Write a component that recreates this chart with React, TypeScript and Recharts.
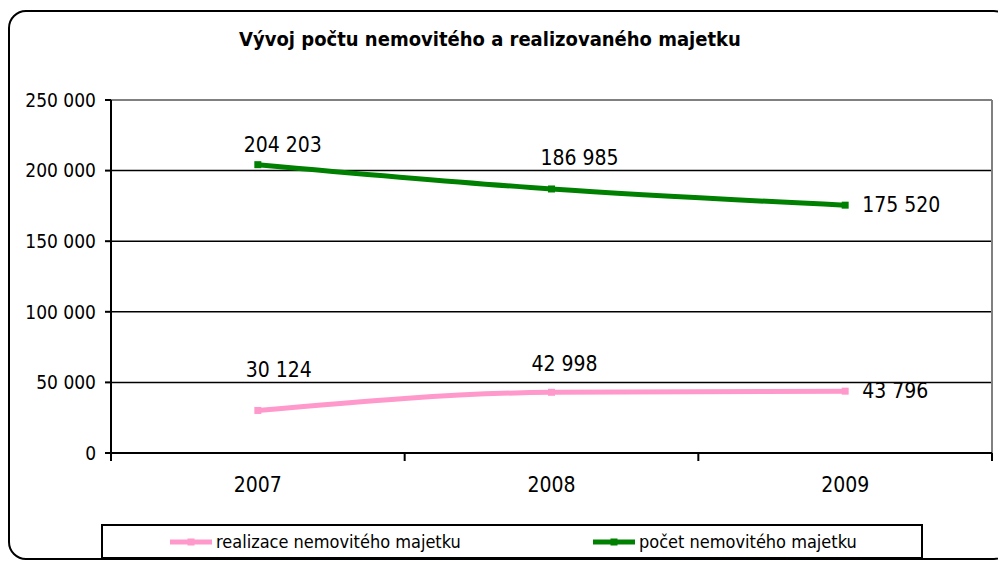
import { LineChart, Line, XAxis, YAxis, CartesianGrid, ReferenceLine } from "recharts";

const years = ["2007", "2008", "2009"];
const realizace = [30124, 42998, 43796];
const pocet = [204203, 186985, 175520];
const yTicks = [0, 50000, 100000, 150000, 200000, 250000];

const seriesNames = {
  realizace: "realizace nemovitého majetku",
  pocet: "počet nemovitého majetku",
};

const PINK = "#FF99CC";
const GREEN = "#008000";
const FONT = "'DejaVu Sans Condensed', 'DejaVu Sans', sans-serif";

// one row per year, x is the middle of the year's band
const data = years.map((year, i) => ({
  year,
  x: i + 0.5,
  realizace: realizace[i],
  pocet: pocet[i],
}));

// band edges get tick marks, band middles get the year
const xTicks = [0, ...years.flatMap((_, i) => [i + 0.5, i + 1])];

const fmt = (v: number) => v.toLocaleString("en-US").replace(/,/g, " ");

// label offsets from the point, as placed in the original
const greenOffsets = [
  { dx: 25, dy: -20, anchor: "middle" },
  { dx: 28, dy: -31, anchor: "middle" },
  { dx: 17, dy: 0, anchor: "start" },
];
const pinkOffsets = [
  { dx: 21, dy: -40, anchor: "middle" },
  { dx: 13, dy: -28, anchor: "middle" },
  { dx: 17, dy: 0, anchor: "start" },
];

function makeLabel(offsets: typeof greenOffsets) {
  return (props: any) => {
    const { x, y, value, index } = props;
    const o = offsets[index];
    return (
      <text
        x={x + o.dx}
        y={y + o.dy}
        textAnchor={o.anchor as any}
        dominantBaseline="central"
        fontSize={21}
        fontFamily={FONT}
        fill="#000"
      >
        {fmt(value)}
      </text>
    );
  };
}

function squareDot(color: string) {
  return (props: any) => {
    const { cx, cy, index } = props;
    return <rect key={index} x={cx - 3.5} y={cy - 3.5} width={7} height={7} fill={color} />;
  };
}

function XTick(props: any) {
  const { x, y, payload } = props;
  const v = payload.value as number;
  if (Number.isInteger(v)) {
    return <line x1={x} y1={y} x2={x} y2={y + 8} stroke="#000" strokeWidth={2} />;
  }
  return (
    <text
      x={x}
      y={y + 32}
      textAnchor="middle"
      dominantBaseline="central"
      fontSize={21}
      fontFamily={FONT}
      fill="#000"
    >
      {years[Math.floor(v)]}
    </text>
  );
}

function LegendSwatch({ color }: { color: string }) {
  return (
    <svg width={42} height={10} style={{ marginRight: 4 }}>
      <line x1={0} y1={5} x2={42} y2={5} stroke={color} strokeWidth={5} />
      <rect x={17.5} y={1.5} width={7} height={7} fill={color} />
    </svg>
  );
}

export default function App() {
  return (
    <div
      style={{
        position: "absolute",
        left: 0,
        top: 0,
        width: 998,
        height: 561,
        overflow: "hidden",
        background: "#fff",
        fontFamily: FONT,
      }}
    >
      <div
        style={{
          position: "absolute",
          left: 8,
          top: 10,
          width: 1000,
          height: 546,
          border: "2px solid #000",
          borderRadius: 18,
        }}
      />
      <div
        style={{
          position: "absolute",
          left: 0,
          width: 980,
          top: 27,
          textAlign: "center",
          fontWeight: "bold",
          fontSize: 20,
          color: "#000",
        }}
      >
        Vývoj počtu nemovitého a realizovaného majetku
      </div>

      <div style={{ position: "absolute", left: 0, top: 0 }}>
        <LineChart
          width={998}
          height={561}
          data={data}
          margin={{ top: 100, right: 6, bottom: 40, left: 11 }}
        >
          <CartesianGrid vertical={false} stroke="#000" strokeWidth={1.5} />
          <XAxis
            dataKey="x"
            type="number"
            domain={[0, 3]}
            ticks={xTicks}
            interval={0}
            stroke="#000"
            strokeWidth={2}
            tickLine={false}
            tickSize={0}
            tickMargin={0}
            tick={<XTick />}
            height={68}
          />
          <YAxis
            domain={[0, 250000]}
            ticks={yTicks}
            tickFormatter={fmt}
            stroke="#000"
            strokeWidth={2}
            tickSize={6}
            tickMargin={9}
            width={100}
            tick={{ fontSize: 19, fill: "#000", fontFamily: FONT }}
          />
          <ReferenceLine y={250000} stroke="#808080" strokeWidth={2} />
          <ReferenceLine x={3} stroke="#808080" strokeWidth={2} />
          <Line
            type="monotone"
            dataKey="realizace"
            name={seriesNames.realizace}
            stroke={PINK}
            strokeWidth={5}
            dot={squareDot(PINK)}
            label={makeLabel(pinkOffsets)}
            isAnimationActive={false}
          />
          <Line
            type="monotone"
            dataKey="pocet"
            name={seriesNames.pocet}
            stroke={GREEN}
            strokeWidth={5}
            dot={squareDot(GREEN)}
            label={makeLabel(greenOffsets)}
            isAnimationActive={false}
          />
        </LineChart>
      </div>

      <div
        style={{
          position: "absolute",
          left: 101,
          top: 524,
          width: 818,
          height: 31,
          border: "2px solid #000",
          display: "flex",
          alignItems: "center",
          fontSize: 18,
          color: "#000",
        }}
      >
        <div style={{ position: "absolute", left: 67, display: "flex", alignItems: "center" }}>
          <LegendSwatch color={PINK} />
          {seriesNames.realizace}
        </div>
        <div style={{ position: "absolute", left: 490, display: "flex", alignItems: "center" }}>
          <LegendSwatch color={GREEN} />
          {seriesNames.pocet}
        </div>
      </div>
    </div>
  );
}
